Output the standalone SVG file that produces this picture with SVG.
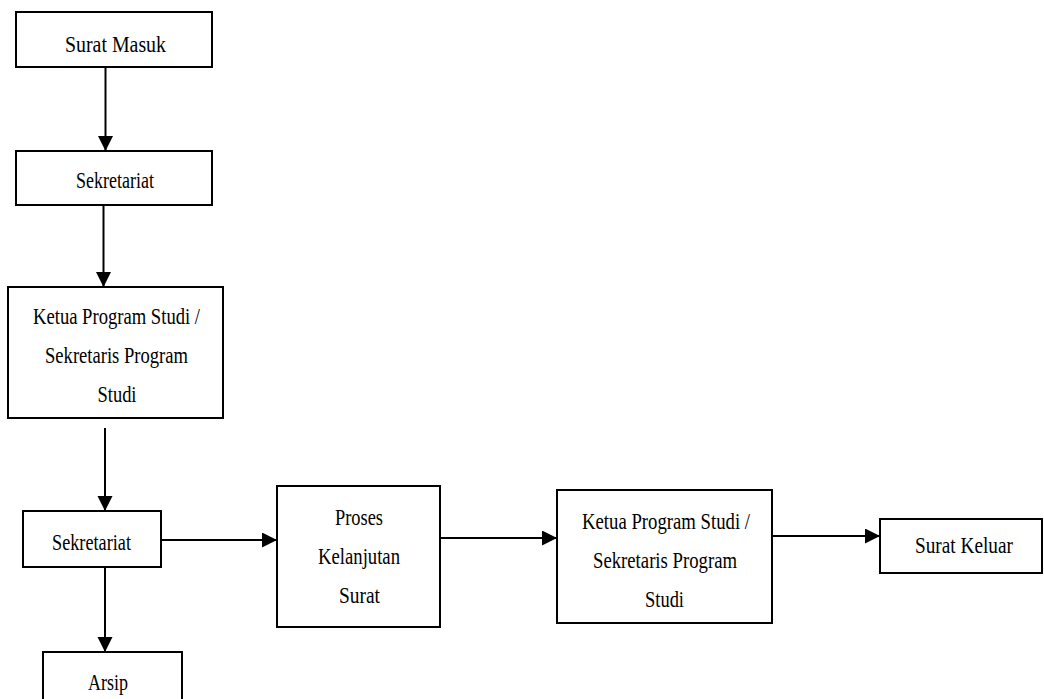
<svg xmlns="http://www.w3.org/2000/svg" width="1044" height="699" viewBox="0 0 1044 699">
<style>
.box{fill:#fff;stroke:#000;stroke-width:2}
.lbl{font-family:"Liberation Serif","Times New Roman",serif;font-size:24px;fill:#000;text-anchor:middle}
.con{stroke:#000;stroke-width:2;fill:none;marker-end:url(#ah)}
</style>
<defs>
<marker id="ah" markerUnits="userSpaceOnUse" markerWidth="16" markerHeight="16" refX="15" refY="7.5" orient="auto">
<path d="M0,0 L15,7.5 L0,15 Z" fill="#000"/>
</marker>
</defs>
<rect width="1044" height="699" fill="#fff"/>
<g id="connectors">
<line class="con" x1="105.5" y1="67" x2="105.5" y2="151"/>
<line class="con" x1="103.5" y1="205" x2="103.5" y2="287"/>
<line class="con" x1="105" y1="428" x2="105" y2="511"/>
<line class="con" x1="105" y1="567" x2="105" y2="652"/>
<line class="con" x1="161" y1="540" x2="277" y2="540"/>
<line class="con" x1="440" y1="538" x2="557" y2="538"/>
<line class="con" x1="772" y1="536" x2="880" y2="536"/>
</g>
<g id="surat-masuk">
<rect class="box" x="16" y="12" width="196" height="55"/>
<text class="lbl" x="115.5" y="51.5" textLength="101" lengthAdjust="spacingAndGlyphs">Surat Masuk</text>
</g>
<g id="sekretariat-1">
<rect class="box" x="16" y="151" width="196" height="54"/>
<text class="lbl" x="115" y="188" textLength="78" lengthAdjust="spacingAndGlyphs">Sekretariat</text>
</g>
<g id="ketua-1">
<rect class="box" x="8" y="287" width="215" height="131"/>
<text class="lbl" x="116.5" y="324" textLength="167" lengthAdjust="spacingAndGlyphs">Ketua Program Studi /</text>
<text class="lbl" x="116.5" y="363" textLength="143" lengthAdjust="spacingAndGlyphs">Sekretaris Program</text>
<text class="lbl" x="117" y="402" textLength="39" lengthAdjust="spacingAndGlyphs">Studi</text>
</g>
<g id="sekretariat-2">
<rect class="box" x="23" y="511" width="138" height="56"/>
<text class="lbl" x="91.5" y="550" textLength="79" lengthAdjust="spacingAndGlyphs">Sekretariat</text>
</g>
<g id="arsip">
<rect class="box" x="43" y="652" width="139" height="60"/>
<text class="lbl" x="108" y="690" textLength="40" lengthAdjust="spacingAndGlyphs">Arsip</text>
</g>
<g id="proses">
<rect class="box" x="277" y="486" width="163" height="141"/>
<text class="lbl" x="359" y="525" textLength="48" lengthAdjust="spacingAndGlyphs">Proses</text>
<text class="lbl" x="359" y="564" textLength="82" lengthAdjust="spacingAndGlyphs">Kelanjutan</text>
<text class="lbl" x="359.5" y="603" textLength="41" lengthAdjust="spacingAndGlyphs">Surat</text>
</g>
<g id="ketua-2">
<rect class="box" x="557" y="490" width="215" height="133"/>
<text class="lbl" x="666" y="529" textLength="168" lengthAdjust="spacingAndGlyphs">Ketua Program Studi /</text>
<text class="lbl" x="665" y="568" textLength="144" lengthAdjust="spacingAndGlyphs">Sekretaris Program</text>
<text class="lbl" x="664.5" y="607" textLength="39" lengthAdjust="spacingAndGlyphs">Studi</text>
</g>
<g id="surat-keluar">
<rect class="box" x="880" y="519" width="162" height="54"/>
<text class="lbl" x="964" y="553" textLength="98" lengthAdjust="spacingAndGlyphs">Surat Keluar</text>
</g>
</svg>
